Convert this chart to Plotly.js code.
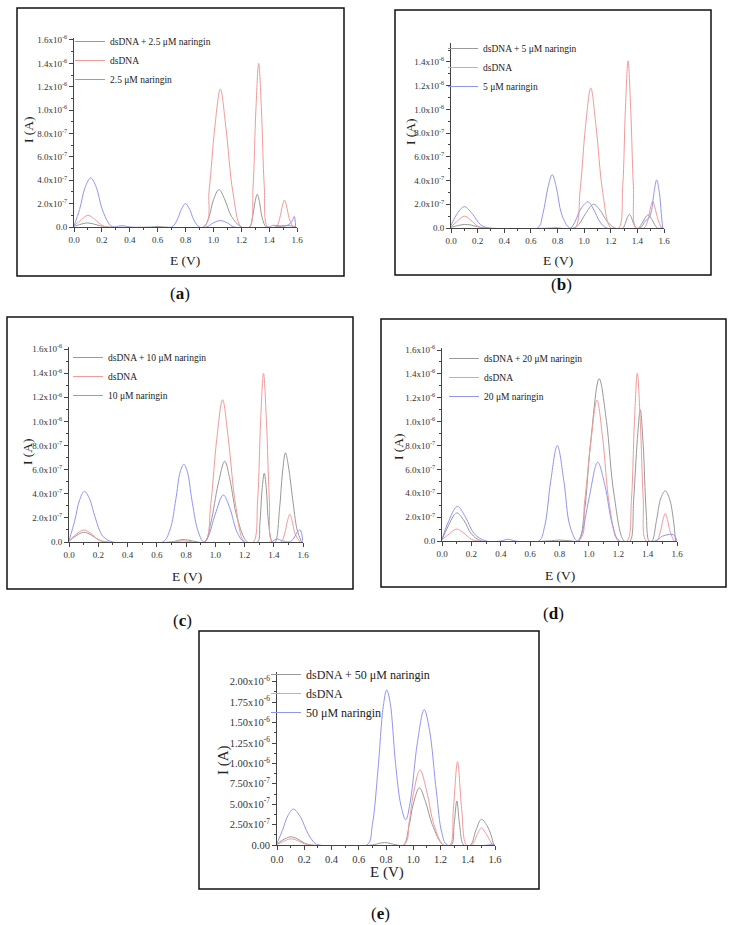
<!DOCTYPE html>
<html><head><meta charset="utf-8">
<script src="https://cdn.plot.ly/plotly-3.0.1.min.js"></script>
<style>html,body{margin:0;padding:0;background:#fff}#chart{width:735px;height:925px}</style>
</head><body><div id="chart"></div>
<script>
// Currents are in units of 1e-7 A, potentials in V
const concentrations = ["2.5", "5", "10", "20", "50"];
const panelLetters = ["a", "b", "c", "d", "e"];

// (a) 2.5 uM
const aComboE = [0,0.04,0.09,0.14,0.19,0.25,0.55,0.6,0.65,0.93,0.97,1.0,1.04,1.08,1.13,1.2,1.26,1.28,1.3,1.315,1.33,1.35,1.38,1.45,1.5,1.56,1.59];
const aComboI = [0.05,0.2,0.35,0.26,0.1,0,0,0.05,0,0,0.9,2.3,3.2,2.4,0.9,0,0,0.8,2.2,2.8,2.2,0.8,0,0,0.1,0.1,0];
const aDnaE = [0,0.04,0.1,0.15,0.2,0.24,0.93,0.97,1.01,1.05,1.09,1.14,1.2,1.26,1.285,1.305,1.325,1.345,1.365,1.39,1.45,1.475,1.495,1.51,1.525,1.545,1.57];
const aDnaI = [0.1,0.5,1.0,0.65,0.15,0,0,3.2,8.5,11.8,8.5,3.0,0,0,3.5,10.0,14.0,10.0,3.5,0,0,0.7,1.8,2.3,1.8,0.7,0];
const aNarE = [0,0.04,0.08,0.12,0.16,0.2,0.25,0.28,0.33,0.36,0.4,0.7,0.74,0.77,0.8,0.83,0.86,0.9,0.95,1.0,1.05,1.1,1.15,1.4,1.43,1.47,1.52,1.56,1.58,1.59];
const aNarI = [0.1,1.5,3.4,4.2,3.4,1.6,0.3,0,0.1,0.1,0,0,0.6,1.5,2.0,1.5,0.6,0,0,0.35,0.55,0.35,0,0,0.15,0.1,0.1,0.4,0.9,0];

// (b) 5 uM
const bComboE = [0,0.05,0.1,0.15,0.2,0.28,0.92,0.96,1.01,1.07,1.12,1.17,1.23,1.29,1.31,1.325,1.34,1.355,1.37,1.39,1.41,1.44,1.48,1.51,1.55,1.59];
const bComboI = [0.05,0.2,0.3,0.25,0.1,0,0,0.3,1.2,2.0,1.5,0.6,0,0,0.4,0.9,1.15,0.9,0.4,0,0,0.5,1.1,0.7,0,0];
const bDnaE = [0,0.04,0.1,0.15,0.2,0.25,0.74,0.78,0.82,0.93,0.97,1.01,1.05,1.09,1.14,1.2,1.26,1.29,1.31,1.33,1.35,1.37,1.39,1.45,1.48,1.5,1.515,1.53,1.555,1.58];
const bDnaI = [0.1,0.5,1.0,0.65,0.15,0,0,0.05,0,0,3.2,8.5,11.8,8.5,3.0,0,0,3.5,10.0,14.1,10.0,3.5,0,0,0.7,1.8,2.25,1.8,0.7,0];
const bNarE = [0,0.04,0.1,0.16,0.22,0.28,0.65,0.69,0.73,0.76,0.79,0.83,0.88,0.9,0.93,0.98,1.03,1.07,1.12,1.17,1.42,1.46,1.49,1.51,1.525,1.545,1.565,1.58,1.59];
const bNarI = [0.2,1.1,1.8,1.2,0.3,0,0,1.2,3.5,4.5,3.5,1.2,0.1,0,0.5,1.7,2.2,1.6,0.5,0,0,0.6,0.9,1.7,3.0,4.05,3.0,1.2,0];

// (c) 10 uM
const cComboE = [0,0.04,0.1,0.15,0.2,0.26,0.7,0.75,0.78,0.82,0.88,0.93,0.97,1.02,1.065,1.1,1.15,1.22,1.29,1.305,1.32,1.335,1.35,1.365,1.39,1.41,1.44,1.46,1.48,1.5,1.53,1.56,1.59];
const cComboI = [0.05,0.45,0.8,0.6,0.2,0,0,0.15,0.2,0.15,0,0,1.6,4.8,6.7,5.2,2.0,0,0,1.5,4.3,5.7,4.3,1.5,0,0,2.8,5.8,7.4,6.3,3.5,1.0,0];
const cDnaE = [0,0.04,0.1,0.15,0.2,0.25,0.72,0.78,0.85,0.93,0.97,1.01,1.05,1.09,1.14,1.2,1.26,1.29,1.31,1.33,1.35,1.37,1.39,1.45,1.475,1.495,1.51,1.525,1.545,1.58];
const cDnaI = [0.1,0.55,1.0,0.7,0.2,0,0,0.1,0,0,3.2,8.5,11.8,8.5,3.0,0,0,3.5,10.0,14.0,10.0,3.5,0,0,0.7,1.8,2.3,1.8,0.7,0];
const cNarE = [0,0.04,0.07,0.105,0.14,0.18,0.23,0.3,0.64,0.69,0.73,0.76,0.785,0.81,0.84,0.88,0.92,0.95,1.0,1.055,1.1,1.15,1.2,1.38,1.42,1.46,1.5,1.53,1.56,1.58,1.6];
const cNarI = [0.1,1.8,3.4,4.2,3.6,2.0,0.5,0,0,1.0,3.5,5.8,6.45,5.8,3.5,1.0,0,0.4,2.3,3.9,2.8,0.8,0,0,0.25,0.1,0,0.2,0.8,1.0,0];

// (d) 20 uM
const dComboE = [0,0.04,0.1,0.15,0.2,0.27,0.72,0.8,0.88,0.93,0.97,1.01,1.07,1.12,1.17,1.24,1.28,1.305,1.33,1.35,1.37,1.39,1.41,1.43,1.46,1.49,1.52,1.55,1.575,1.59];
const dComboI = [0.1,1.2,2.35,1.7,0.6,0,0,0.08,0,0,2.5,8.0,13.6,10.0,4.0,0,0,3.5,8.5,11.0,8.0,2.5,0,0,1.7,3.6,4.2,3.5,1.8,0];
const dDnaE = [0,0.04,0.1,0.15,0.2,0.25,0.93,0.97,1.015,1.055,1.095,1.14,1.2,1.26,1.29,1.31,1.33,1.35,1.37,1.39,1.46,1.485,1.505,1.52,1.535,1.555,1.58];
const dDnaI = [0.1,0.5,1.0,0.65,0.15,0,0,3.2,8.5,11.8,8.5,3.0,0,0,3.5,10.0,14.05,10.0,3.5,0,0,0.7,1.8,2.3,1.8,0.7,0];
const dNarE = [0,0.04,0.105,0.16,0.22,0.3,0.4,0.45,0.5,0.66,0.7,0.74,0.785,0.83,0.87,0.92,0.95,1.0,1.06,1.11,1.16,1.21,1.45,1.5,1.55,1.58,1.6];
const dNarI = [0.15,1.5,2.9,2.0,0.6,0,0,0.15,0,0,1.3,5.0,8.0,5.0,1.3,0,0.6,3.5,6.6,4.6,1.4,0,0,0.4,0.55,0.5,0];

// (e) 50 uM
const eComboE = [0,0.04,0.1,0.15,0.2,0.25,0.7,0.75,0.79,0.83,0.88,0.93,0.97,1.0,1.045,1.09,1.14,1.22,1.28,1.3,1.32,1.34,1.37,1.42,1.46,1.5,1.54,1.57,1.59];
const eComboI = [0.1,0.6,1.0,0.75,0.25,0,0,0.2,0.3,0.2,0,0,2.4,5.0,7.0,5.3,2.5,0,0,2.5,5.4,2.5,0,0,1.8,3.15,2.4,1.3,0];
const eDnaE = [0,0.04,0.1,0.15,0.2,0.25,0.93,0.97,1.0,1.05,1.1,1.15,1.22,1.27,1.295,1.325,1.355,1.39,1.43,1.47,1.5,1.53,1.58];
const eDnaI = [0.05,0.4,0.75,0.55,0.15,0,0,2.8,6.2,9.2,6.5,2.6,0,0,4.5,10.2,4.5,0,0,1.3,2.1,1.5,0];
const eNarE = [0,0.04,0.08,0.12,0.17,0.23,0.28,0.31,0.66,0.7,0.74,0.78,0.805,0.83,0.87,0.91,0.945,0.98,1.03,1.08,1.12,1.17,1.21,1.25,1.55,1.58,1.6];
const eNarI = [0.2,1.8,3.6,4.4,3.5,1.3,0.2,0,0,2.5,9.0,17.0,19.0,17.5,10.0,4.8,3.1,5.5,12.5,16.6,14.0,6.5,1.5,0,0,0.1,0];

// Tick labels
const xTickVals = [0,0.2,0.4,0.6,0.8,1.0,1.2,1.4,1.6];
const xTickText = ["0.0","0.2","0.4","0.6","0.8","1.0","1.2","1.4","1.6"];
const yTickVals = [0,2,4,6,8,10,12,14,16];
const yTickText = ["0.0","2.0x10<sup>-7</sup>","4.0x10<sup>-7</sup>","6.0x10<sup>-7</sup>","8.0x10<sup>-7</sup>","1.0x10<sup>-6</sup>","1.2x10<sup>-6</sup>","1.4x10<sup>-6</sup>","1.6x10<sup>-6</sup>"];
const yTickValsE = [0,2.5,5,7.5,10,12.5,15,17.5,20];
const yTickTextE = ["0.00","2.50x10<sup>-7</sup>","5.00x10<sup>-7</sup>","7.50x10<sup>-7</sup>","1.00x10<sup>-6</sup>","1.25x10<sup>-6</sup>","1.50x10<sup>-6</sup>","1.75x10<sup>-6</sup>","2.00x10<sup>-6</sup>"];
const xTitle = "E (V)";
const yTitle = "I (A)";

const seriesE = [[aComboE,aDnaE,aNarE],[bComboE,bDnaE,bNarE],[cComboE,cDnaE,cNarE],[dComboE,dDnaE,dNarE],[eComboE,eDnaE,eNarE]];
const seriesI = [[aComboI,aDnaI,aNarI],[bComboI,bDnaI,bNarI],[cComboI,cDnaI,cNarI],[dComboI,dDnaI,dNarI],[eComboI,eDnaI,eNarI]];

const SERIF = "Liberation Serif, Times New Roman, serif";
const W = 735, H = 925;
const colors = ["#999999", "#f29a9a", "#9494f2"];

// panel geometry in pixels
const panels = [
  {plot:[74,297,227,38], ymax:16.17, box:[17,8,344,276], label:[180,293], leg:[70,27], fs:9, tfs:13.5, lfs:9.5, yt:[28,130], xt:[185,260]},
  {plot:[451,664,228,43], ymax:15.6, box:[395,10,711,275], label:[561,285], leg:[443,34], fs:9, tfs:13.5, lfs:9.5, yt:[410,131], xt:[558,260]},
  {plot:[69,303,542,347], ymax:16.17, box:[7,317,353,589], label:[182,620], leg:[68,343], fs:9, tfs:13.5, lfs:9.5, yt:[27,452], xt:[187,576]},
  {plot:[442,677,541,348], ymax:16.17, box:[381,319,726,587], label:[553,613], leg:[444,344], fs:9, tfs:13.5, lfs:9.5, yt:[399,446], xt:[560,575]},
  {plot:[277,495,845,672], ymax:21.2, box:[199,631,539,889], label:[380,913], leg:[266,660], fs:10.5, tfs:15, lfs:12, yt:[223,760], xt:[387,872]}
];

const traces = [];
const layout = {
  width: W, height: H,
  margin: {l:0, r:0, t:0, b:0},
  paper_bgcolor: "#ffffff", plot_bgcolor: "rgba(0,0,0,0)",
  font: {family: SERIF, color: "#222"},
  shapes: [], annotations: []
};

panels.forEach((p, k) => {
  const n = k + 1;
  const xa = "x" + (n === 1 ? "" : n), ya = "y" + (n === 1 ? "" : n);
  const legName = "legend" + (n === 1 ? "" : n);
  const names = ["dsDNA + " + concentrations[k] + " \u03bcM naringin", "dsDNA", concentrations[k] + " \u03bcM naringin"];
  for (let s = 0; s < 3; s++) {
    traces.push({
      type: "scatter", mode: "lines",
      x: seriesE[k][s], y: seriesI[k][s],
      xaxis: xa, yaxis: ya, legend: legName,
      name: names[s],
      line: {color: colors[s], width: 1, shape: "spline", smoothing: 1},
      hoverinfo: "skip"
    });
  }
  const isE = k === 4;
  layout["xaxis" + (n === 1 ? "" : n)] = {
    domain: [p.plot[0]/W, p.plot[1]/W], anchor: ya, range: [0, 1.6],
    tickmode: "array", tickvals: xTickVals, ticktext: xTickText,
    ticks: "outside", ticklen: 4, tickwidth: 1, tickcolor: "#444",
    showline: true, linecolor: "#444", linewidth: 1,
    showgrid: false, zeroline: false, fixedrange: true,
    tickfont: {family: SERIF, size: p.fs, color: "#333"},
    minor: {tickmode: "linear", tick0: 0, dtick: 0.1, ticks: "outside", ticklen: 2, tickcolor: "#444", showgrid: false}
  };
  layout["yaxis" + (n === 1 ? "" : n)] = {
    domain: [1 - p.plot[2]/H, 1 - p.plot[3]/H], anchor: xa, range: [0, p.ymax],
    tickmode: "array", tickvals: isE ? yTickValsE : yTickVals, ticktext: isE ? yTickTextE : yTickText,
    ticks: "outside", ticklen: 4, tickwidth: 1, tickcolor: "#444",
    showline: true, linecolor: "#444", linewidth: 1,
    showgrid: false, zeroline: false, fixedrange: true,
    tickfont: {family: SERIF, size: p.fs, color: "#333"},
    minor: {tickmode: "linear", tick0: 0, dtick: isE ? 1.25 : 1, ticks: "outside", ticklen: 2, tickcolor: "#444", showgrid: false}
  };
  layout[legName] = {
    x: p.leg[0]/W, y: 1 - p.leg[1]/H, xanchor: "left", yanchor: "top",
    bgcolor: "rgba(0,0,0,0)", borderwidth: 0, tracegroupgap: 0,
    font: {family: SERIF, size: p.lfs, color: "#222"}
  };
  layout.shapes.push({
    type: "rect", xref: "paper", yref: "paper",
    x0: p.box[0]/W, x1: p.box[2]/W, y0: 1 - p.box[3]/H, y1: 1 - p.box[1]/H,
    line: {color: "#111", width: 1.5}, fillcolor: "rgba(0,0,0,0)", layer: "below"
  });
  // axis titles
  layout.annotations.push({
    xref: "paper", yref: "paper", x: p.xt[0]/W, y: 1 - p.xt[1]/H,
    xanchor: "center", yanchor: "middle", showarrow: false,
    text: xTitle, font: {family: SERIF, size: p.tfs, color: "#222"}
  });
  layout.annotations.push({
    xref: "paper", yref: "paper", x: p.yt[0]/W, y: 1 - p.yt[1]/H,
    xanchor: "center", yanchor: "middle", showarrow: false, textangle: -90,
    text: yTitle, font: {family: SERIF, size: p.tfs, color: "#222"}
  });
  // panel label
  layout.annotations.push({
    xref: "paper", yref: "paper", x: p.label[0]/W, y: 1 - p.label[1]/H,
    xanchor: "center", yanchor: "middle", showarrow: false,
    text: "(<b>" + panelLetters[k] + "</b>)", font: {family: SERIF, size: 17, color: "#111"}
  });
});

Plotly.newPlot("chart", traces, layout, {displayModeBar: false, staticPlot: true});
</script>
</body></html>
